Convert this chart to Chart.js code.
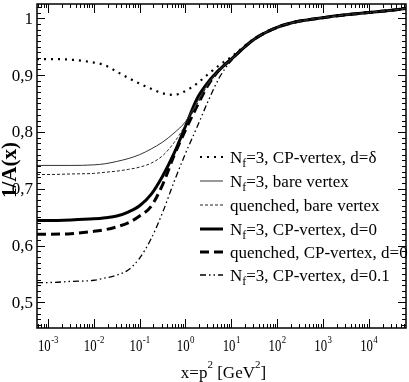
<!DOCTYPE html>
<html><head><meta charset="utf-8">
<script src="https://cdn.jsdelivr.net/npm/chart.js@4"></script>
<style>html,body{margin:0;padding:0;background:#fff}#wrap{width:409px;height:382px}</style>
</head><body><div id="wrap"><canvas id="c" width="409" height="382"></canvas></div>
<script>
// x = p^2 [GeV^2]
const xValues = [5.75e-4, 1e-3, 3.16e-3, 1e-2, 1.78e-2, 3.16e-2, 5.62e-2, 0.1, 0.178, 0.316, 0.562, 1, 1.78, 3.16, 5.62, 10, 31.6, 100, 316, 1000, 3162, 1e4, 3.16e4, 6.5e4];
// 1/A(x) for each curve
const nf3CpDelta   = [0.928,0.928,0.927,0.922,0.917,0.906,0.895,0.885,0.876,0.868,0.865,0.872,0.885,0.902,0.918,0.932,0.964,0.984,0.995,1.001,1.006,1.010,1.014,1.017];
const nf3Bare      = [0.741,0.741,0.741,0.742,0.744,0.748,0.753,0.760,0.770,0.782,0.798,0.818,0.852,0.886,0.910,0.928,0.963,0.984,0.995,1.001,1.006,1.010,1.014,1.017];
const quenchedBare = [0.725,0.725,0.726,0.727,0.729,0.731,0.734,0.738,0.745,0.758,0.781,0.812,0.848,0.884,0.909,0.928,0.963,0.984,0.995,1.001,1.006,1.010,1.014,1.017];
const nf3Cp0       = [0.644,0.644,0.645,0.647,0.649,0.652,0.659,0.670,0.690,0.722,0.762,0.810,0.858,0.888,0.910,0.928,0.963,0.984,0.995,1.001,1.006,1.010,1.014,1.017];
const quenchedCp0  = [0.620,0.620,0.621,0.625,0.628,0.633,0.640,0.652,0.669,0.707,0.758,0.803,0.845,0.883,0.910,0.928,0.963,0.984,0.995,1.001,1.006,1.010,1.014,1.017];
const nf3Cp01      = [0.535,0.535,0.537,0.539,0.543,0.548,0.557,0.578,0.612,0.658,0.712,0.762,0.808,0.855,0.897,0.925,0.962,0.984,0.995,1.001,1.006,1.010,1.014,1.017];

const legendLabels = [
  [['N'],['f',1],['=3, CP-vertex, d=δ']],
  [['N'],['f',1],['=3, bare vertex']],
  [['quenched, bare vertex']],
  [['N'],['f',1],['=3, CP-vertex, d=0']],
  [['quenched, CP-vertex, d=0']],
  [['N'],['f',1],['=3, CP-vertex, d=0.1']]
];
const xTickValues = [1e-3,1e-2,1e-1,1,1e1,1e2,1e3,1e4];
const xTickExps = ['-3','-2','-1','0','1','2','3','4'];
const yTickValues = [0.5,0.6,0.7,0.8,0.9,1.0];
const yTickLabels = ['0,5','0,6','0,7','0,8','0,9','1'];

function mk(vals, w, dash, color){
  return {data: xValues.map((x,i)=>({x:x,y:vals[i]})), borderColor: color||'#000', borderWidth:w, borderDash:dash, fill:false, pointRadius:0, cubicInterpolationMode:'monotone'};
}
const datasets = [
  mk(nf3CpDelta, 2.2, [2,5]),
  mk(nf3Bare, 1, [], '#333'),
  mk(quenchedBare, 1, [3,2], '#222'),
  mk(nf3Cp0, 3, []),
  mk(quenchedCp0, 3, [9,5]),
  mk(nf3Cp01, 1.3, [6,3,1.5,3,1.5,3])
];

const SERIF = '"Liberation Serif","Times New Roman",serif';

const axesPlugin = {
  id:'axesPlugin',
  afterDraw(chart){
    const c = chart.ctx, a = chart.chartArea, xs = chart.scales.x, ys = chart.scales.y;
    c.save();
    c.strokeStyle = '#000'; c.fillStyle = '#000';
    c.lineWidth = 1;
    for (let e = -4; e <= 4; e++) {
      for (let m = 1; m <= 9; m++) {
        const v = m * Math.pow(10, e);
        if (v < xs.min || v > xs.max) continue;
        const px = Math.round(xs.getPixelForValue(v)) + 0.5;
        const len = m === 1 ? 9 : 4;
        c.beginPath();
        c.moveTo(px, a.bottom); c.lineTo(px, a.bottom - len);
        c.moveTo(px, a.top); c.lineTo(px, a.top + len);
        c.stroke();
      }
    }
    for (let k = 46; k <= 102; k++) {
      const v = k / 100;
      if (v < ys.min || v > ys.max) continue;
      const py = Math.round(ys.getPixelForValue(v)) + 0.5;
      const len = (k % 10 === 0) ? 8 : 4;
      c.beginPath();
      c.moveTo(a.left, py); c.lineTo(a.left + len, py);
      c.moveTo(a.right, py); c.lineTo(a.right - len, py);
      c.stroke();
    }
    c.lineWidth = 1.5;
    c.strokeRect(a.left, a.top, a.right - a.left, a.bottom - a.top);
    c.font = '17px ' + SERIF;
    c.textAlign = 'right'; c.textBaseline = 'middle';
    yTickValues.forEach((v,i)=>{
      c.fillText(yTickLabels[i], a.left - 4, ys.getPixelForValue(v) + 1);
    });
    c.textAlign = 'left'; c.textBaseline = 'alphabetic';
    const sx = 0.8;
    xTickValues.forEach((v,i)=>{
      const px = xs.getPixelForValue(v);
      c.font = '16px ' + SERIF;
      const w1 = c.measureText('10').width * sx;
      c.font = '11px ' + SERIF;
      const w2 = c.measureText(xTickExps[i]).width * sx;
      const x0 = px - (w1 + w2) / 2;
      c.save(); c.translate(x0, 351); c.scale(sx, 1);
      c.font = '16px ' + SERIF; c.fillText('10', 0, 0);
      c.font = '11px ' + SERIF; c.fillText(xTickExps[i], w1 / sx + 0.5, -8);
      c.restore();
    });
    const parts = [['x=p',0],['2',1],[' [GeV',0],['2',1],[']',0]];
    let tw = 0;
    parts.forEach(p=>{ c.font = (p[1]?'11px ':'17px ') + SERIF; tw += c.measureText(p[0]).width; });
    let cx = (a.left + a.right) / 2 - tw / 2 + 2;
    parts.forEach(p=>{ c.font = (p[1]?'11px ':'17px ') + SERIF; c.fillText(p[0], cx, p[1] ? 368 : 378); cx += c.measureText(p[0]).width; });
    c.save(); c.translate(16, 170); c.rotate(-Math.PI/2);
    c.font = 'bold 21px ' + SERIF; c.textAlign = 'center'; c.textBaseline = 'alphabetic';
    c.fillText('1/A(x)', 0, 0);
    c.restore();
    c.restore();
  }
};

const legendPlugin = {
  id:'legendPlugin',
  afterDraw(chart){
    const c = chart.ctx;
    const rows = [157,181,205,229,252,275];
    c.save();
    chart.data.datasets.forEach((ds,i)=>{
      const y = rows[i];
      c.strokeStyle = ds.borderColor; c.lineWidth = ds.borderWidth; c.setLineDash(ds.borderDash || []);
      c.beginPath(); c.moveTo(200, y); c.lineTo(223, y); c.stroke();
      c.setLineDash([]);
      let x = 230;
      c.fillStyle = '#000'; c.textBaseline = 'alphabetic'; c.textAlign = 'left';
      legendLabels[i].forEach(p=>{
        if (p[1]) { c.font = '12px ' + SERIF; c.fillText(p[0], x, y + 10); }
        else { c.font = '17px ' + SERIF; c.fillText(p[0], x, y + 6); }
        x += c.measureText(p[0]).width;
      });
    });
    c.restore();
  }
};

new Chart(document.getElementById('c').getContext('2d'), {
  type:'line',
  data:{datasets:datasets},
  options:{
    responsive:false, animation:false, devicePixelRatio:1,
    layout:{padding:{left:37, right:3, top:4, bottom:54}},
    plugins:{legend:{display:false}, tooltip:{enabled:false}},
    scales:{
      x:{type:'logarithmic', min:5.75e-4, max:6.5e4, display:false},
      y:{type:'linear', min:0.455, max:1.025, display:false}
    }
  },
  plugins:[axesPlugin, legendPlugin]
});
</script></body></html>
